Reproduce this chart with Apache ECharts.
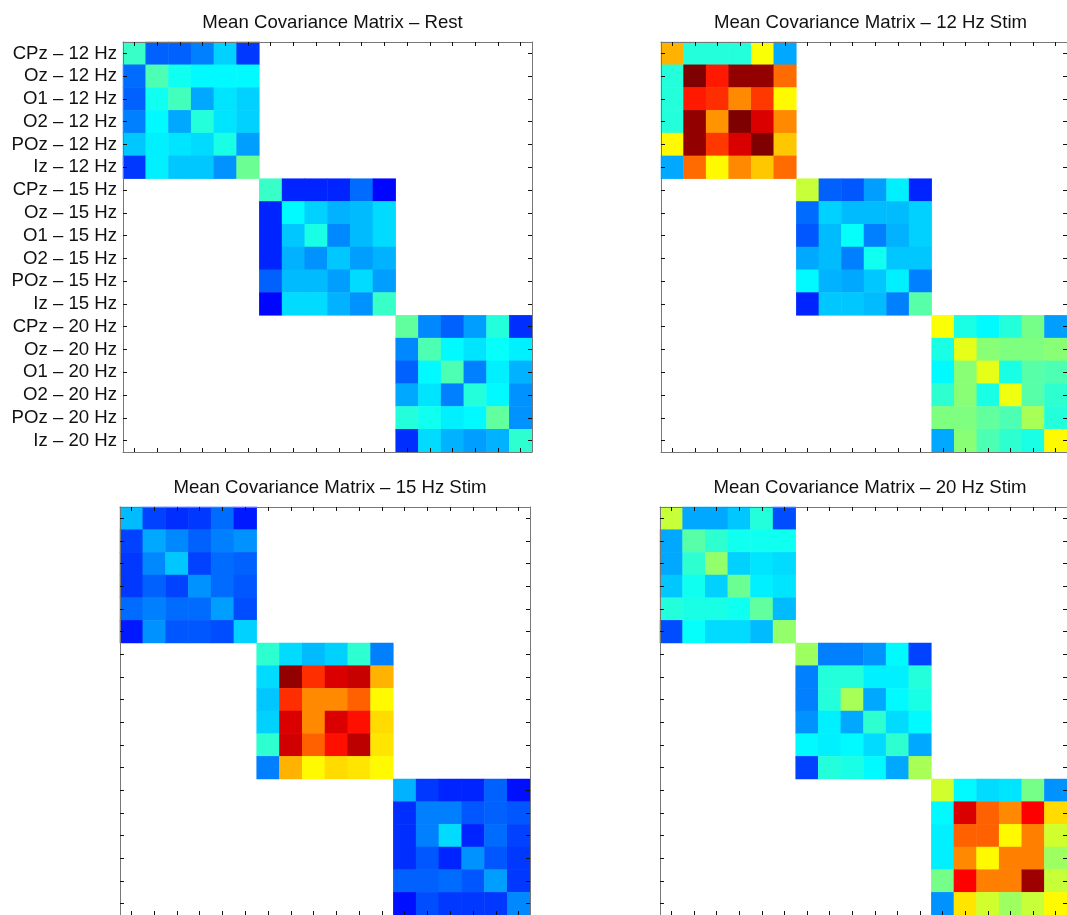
<!DOCTYPE html>
<html>
<head>
<meta charset="utf-8">
<script src="https://cdn.jsdelivr.net/npm/echarts@6/dist/echarts.min.js"></script>
<style>
html,body{margin:0;padding:0;background:#fff;}
#chart{width:1067px;height:915px;}
</style>
</head>
<body>
<div id="chart"></div>
<script>
// ---- categories / labels ----
const categories = [
  "CPz – 12 Hz","Oz – 12 Hz","O1 – 12 Hz","O2 – 12 Hz","POz – 12 Hz","Iz – 12 Hz",
  "CPz – 15 Hz","Oz – 15 Hz","O1 – 15 Hz","O2 – 15 Hz","POz – 15 Hz","Iz – 15 Hz",
  "CPz – 20 Hz","Oz – 20 Hz","O1 – 20 Hz","O2 – 20 Hz","POz – 20 Hz","Iz – 20 Hz"
];
const panelTitles = [
  "Mean Covariance Matrix – Rest",
  "Mean Covariance Matrix – 12 Hz Stim",
  "Mean Covariance Matrix – 15 Hz Stim",
  "Mean Covariance Matrix – 20 Hz Stim"
];

// ---- values (normalised covariance, colour scale 0..1) ----
// Rest
const rest12 = [
  [0.43,0.22,0.22,0.25,0.33,0.18],
  [0.23,0.45,0.39,0.37,0.37,0.37],
  [0.22,0.39,0.44,0.29,0.35,0.33],
  [0.25,0.37,0.29,0.41,0.35,0.33],
  [0.32,0.36,0.35,0.34,0.40,0.28],
  [0.18,0.36,0.32,0.32,0.27,0.48]];
const rest15 = [
  [0.43,0.16,0.16,0.16,0.23,0.13],
  [0.16,0.37,0.33,0.30,0.31,0.34],
  [0.16,0.32,0.40,0.26,0.31,0.34],
  [0.16,0.30,0.27,0.32,0.28,0.30],
  [0.22,0.31,0.31,0.28,0.34,0.28],
  [0.13,0.34,0.34,0.30,0.27,0.43]];
const rest20 = [
  [0.47,0.26,0.22,0.28,0.41,0.17],
  [0.26,0.45,0.37,0.35,0.38,0.36],
  [0.22,0.37,0.45,0.25,0.36,0.30],
  [0.29,0.35,0.25,0.41,0.37,0.27],
  [0.41,0.39,0.36,0.37,0.47,0.27],
  [0.17,0.34,0.30,0.28,0.30,0.42]];
// 12 Hz stim
const stim12_12 = [
  [0.70,0.41,0.41,0.41,0.62,0.29],
  [0.41,1.00,0.85,0.98,0.98,0.77],
  [0.41,0.85,0.83,0.74,0.82,0.63],
  [0.41,0.98,0.73,1.00,0.91,0.74],
  [0.63,0.98,0.82,0.91,1.00,0.68],
  [0.29,0.77,0.63,0.74,0.68,0.77]];
const stim12_15 = [
  [0.57,0.22,0.21,0.28,0.36,0.16],
  [0.23,0.33,0.31,0.31,0.31,0.33],
  [0.21,0.31,0.38,0.25,0.30,0.33],
  [0.29,0.31,0.25,0.39,0.32,0.32],
  [0.37,0.30,0.29,0.32,0.36,0.25],
  [0.16,0.32,0.32,0.31,0.25,0.46]];
const stim12_20 = [
  [0.62,0.40,0.37,0.41,0.49,0.28],
  [0.40,0.60,0.51,0.50,0.50,0.51],
  [0.37,0.51,0.60,0.40,0.46,0.45],
  [0.42,0.51,0.40,0.61,0.46,0.42],
  [0.50,0.50,0.47,0.45,0.54,0.41],
  [0.29,0.51,0.45,0.42,0.40,0.63]];
// 15 Hz stim
const stim15_12 = [
  [0.31,0.19,0.17,0.18,0.23,0.15],
  [0.19,0.29,0.26,0.22,0.25,0.27],
  [0.18,0.26,0.32,0.19,0.23,0.22],
  [0.18,0.22,0.19,0.27,0.23,0.21],
  [0.23,0.25,0.23,0.23,0.28,0.20],
  [0.15,0.27,0.21,0.21,0.20,0.33]];
const stim15_15 = [
  [0.42,0.34,0.31,0.33,0.42,0.25],
  [0.34,0.98,0.83,0.91,0.93,0.70],
  [0.32,0.83,0.74,0.74,0.78,0.63],
  [0.33,0.91,0.74,0.91,0.86,0.66],
  [0.42,0.92,0.78,0.86,0.94,0.65],
  [0.25,0.70,0.63,0.66,0.65,0.63]];
const stim15_20 = [
  [0.30,0.18,0.16,0.16,0.22,0.14],
  [0.17,0.25,0.25,0.21,0.22,0.21],
  [0.17,0.25,0.34,0.16,0.23,0.19],
  [0.17,0.21,0.16,0.27,0.21,0.18],
  [0.22,0.22,0.23,0.21,0.28,0.18],
  [0.14,0.20,0.18,0.18,0.18,0.26]];
// 20 Hz stim
const stim20_12 = [
  [0.57,0.29,0.29,0.32,0.41,0.20],
  [0.29,0.46,0.42,0.39,0.39,0.39],
  [0.29,0.42,0.52,0.33,0.35,0.34],
  [0.32,0.39,0.33,0.48,0.36,0.35],
  [0.41,0.40,0.40,0.39,0.47,0.31],
  [0.20,0.38,0.34,0.34,0.31,0.52]];
const stim20_15 = [
  [0.53,0.25,0.25,0.27,0.37,0.19],
  [0.25,0.41,0.41,0.36,0.36,0.41],
  [0.25,0.41,0.54,0.29,0.37,0.40],
  [0.27,0.36,0.29,0.42,0.34,0.37],
  [0.37,0.36,0.37,0.34,0.42,0.29],
  [0.19,0.41,0.40,0.37,0.29,0.54]];
const stim20_20 = [
  [0.58,0.37,0.34,0.35,0.49,0.27],
  [0.37,0.91,0.78,0.74,0.875,0.66],
  [0.36,0.78,0.78,0.63,0.75,0.58],
  [0.36,0.74,0.63,0.75,0.75,0.53],
  [0.49,0.875,0.75,0.75,0.97,0.57],
  [0.27,0.65,0.58,0.53,0.57,0.63]];

const panelBlocks = [
  [rest12, rest15, rest20],
  [stim12_12, stim12_15, stim12_20],
  [stim15_12, stim15_15, stim15_20],
  [stim20_12, stim20_15, stim20_20]
];

// ---- layout ----
const grids = [
  {left:123, top:42, width:409, height:410},
  {left:661, top:42, width:409, height:410},
  {left:120, top:507, width:410, height:409},
  {left:660, top:507, width:410, height:409}
];
const titleTops = [8, 8, 473, 473];
const jet = ['#00007F','#0000FF','#007FFF','#00FFFF','#7FFF7F','#FFFF00','#FF7F00','#FF0000','#7F0000'];
const FONT = 'Liberation Sans';
const FS = 18.6;

function buildData(blocks){
  const out = [];
  blocks.forEach((m, b) => {
    const n = m.length;
    for (let i = 0; i < n; i++) for (let j = 0; j < n; j++) {
      out.push([b*n + j, b*n + i, m[i][j]]);
    }
  });
  return out;
}

const option = {
  backgroundColor: '#fff',
  animation: false,
  title: panelTitles.map((t, k) => ({
    text: t,
    left: grids[k].left + grids[k].width/2,
    top: titleTops[k],
    textAlign: 'center',
    textStyle: {fontFamily: FONT, fontSize: FS, fontWeight: 'normal', color: '#111'}
  })),
  grid: grids.map(g => Object.assign({containLabel:false}, g)),
  xAxis: [],
  yAxis: [],
  visualMap: {
    type: 'continuous', min: 0, max: 1, show: false, dimension: 2,
    seriesIndex: [0,1,2,3],
    inRange: {color: jet}
  },
  series: []
};

const axisCommon = {
  type: 'category',
  data: categories,
  z: 10,
  axisLine: {show: true, onZero: false, lineStyle: {color: '#777', width: 1}},
  axisTick: {show: true, inside: true, length: 4, alignWithLabel: true, interval: 0, lineStyle: {color: '#111', width: 1}},
  splitLine: {show: false},
  splitArea: {show: false}
};

panelBlocks.forEach((blocks, k) => {
  option.xAxis.push(Object.assign({}, axisCommon, {gridIndex: k, position: 'bottom', axisLabel: {show: false}}));
  option.xAxis.push(Object.assign({}, axisCommon, {gridIndex: k, position: 'top', axisLabel: {show: false}}));
  option.yAxis.push(Object.assign({}, axisCommon, {gridIndex: k, position: 'left', inverse: true,
    axisLabel: {show: k === 0, interval: 0, margin: 6, fontFamily: FONT, fontSize: FS, color: '#111'}}));
  option.yAxis.push(Object.assign({}, axisCommon, {gridIndex: k, position: 'right', inverse: true, axisLabel: {show: false}}));
  option.series.push({
    type: 'heatmap',
    xAxisIndex: 2*k,
    yAxisIndex: 2*k,
    data: buildData(blocks),
    itemStyle: {borderWidth: 0},
    emphasis: {disabled: true},
    progressive: 0
  });
});

const chart = echarts.init(document.getElementById('chart'), null, {renderer: 'canvas'});
chart.setOption(option);
</script>
</body>
</html>
